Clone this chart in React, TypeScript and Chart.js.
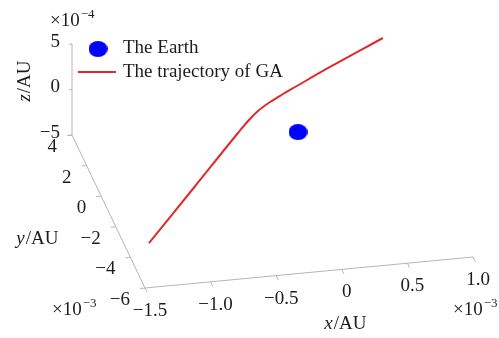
import React, { useEffect, useRef } from "react";
import { Chart, registerables } from "chart.js";

Chart.register(...registerables);

// ---------- data (x, y in 1e-3 AU; z in 1e-4 AU) ----------
const seriesNames = ["The Earth", "The trajectory of GA"];

const xTicks = [-1.5, -1.0, -0.5, 0, 0.5, 1.0];
const xTickLabels = ["\u22121.5", "\u22121.0", "\u22120.5", "0", "0.5", "1.0"];
const yTicks = [-6, -4, -2, 0, 2, 4];
const yTickLabels = ["\u22126", "\u22124", "\u22122", "0", "2", "4"];
const zTicks = [-5, 0, 5];
const zTickLabels = ["\u22125", "0", "5"];

const trajX = [-1.473, -0.951, -0.441, -0.329, -0.228, -0.118, -0.005, 0.106, 0.406, 0.871];
const trajY = [-6.055, -2.85, 0.298, 0.933, 1.385, 1.706, 1.959, 2.181, 2.915, 4.017];
const trajZ = [0, 0, 0, 0.1, 0.3, 0.6, 0.9, 1.2, 1.7, 2.4];

const earthX = [0];
const earthY = [0];
const earthZ = [0];

// ---------- view / style ----------
const W = 499;
const H = 338;
const X_MIN = -1.5, X_MAX = 1.0, Y_MIN = -6, Y_MAX = 4, Z_MIN = -5, Z_MAX = 5;
const ORIGIN = [145, 288];
const VX = [131.2, -12.4];
const VY = [-7.3, -15.3];
const VZ = [0, -9.1];
const RED = "#e02a2a";
const BLUE = "#0000ff";
const AXIS = "#b5b5b5";
const TEXT = "#1c1c1c";
const FAM = '"Liberation Serif", "DejaVu Serif", serif';

function project(x: number, y: number, z: number) {
  return {
    x: ORIGIN[0] + (x - X_MIN) * VX[0] + (y - Y_MIN) * VY[0] + (z - Z_MIN) * VZ[0],
    y: ORIGIN[1] + (x - X_MIN) * VX[1] + (y - Y_MIN) * VY[1] + (z - Z_MIN) * VZ[1],
  };
}

function makeEllipse(w: number, h: number) {
  const c = document.createElement("canvas");
  c.width = w;
  c.height = h;
  const g = c.getContext("2d")!;
  g.fillStyle = BLUE;
  g.beginPath();
  g.ellipse(w / 2, h / 2, w / 2, h / 2, 0, 0, Math.PI * 2);
  g.fill();
  return c;
}

function drawPow(ctx: CanvasRenderingContext2D, left: number, mid: number, exp: string) {
  ctx.font = `19px ${FAM}`;
  ctx.textAlign = "left";
  ctx.textBaseline = "middle";
  ctx.fillText("\u00d710", left, mid);
  const w = ctx.measureText("\u00d710").width;
  ctx.font = `13px ${FAM}`;
  ctx.fillText(exp, left + w + 1, mid - 6);
}

export default function App() {
  const ref = useRef<HTMLCanvasElement>(null);

  useEffect(() => {
    document.body.style.margin = "0";
    const canvas = ref.current!;
    const earthImg = makeEllipse(19, 16);

    const axesPlugin = {
      id: "axes3d",
      beforeDatasetsDraw(chart: any) {
        const ctx: CanvasRenderingContext2D = chart.ctx;
        const sx = chart.scales.x;
        const sy = chart.scales.y;
        const P = (x: number, y: number, z: number) => {
          const p = project(x, y, z);
          return { x: sx.getPixelForValue(p.x), y: sy.getPixelForValue(p.y) };
        };
        ctx.save();
        ctx.strokeStyle = AXIS;
        ctx.lineWidth = 1;
        const line = (a: any, b: any) => {
          ctx.beginPath();
          ctx.moveTo(a.x, a.y);
          ctx.lineTo(b.x, b.y);
          ctx.stroke();
        };
        // axes lines
        line(P(X_MIN, Y_MIN, Z_MIN), P(X_MAX, Y_MIN, Z_MIN));
        line(P(X_MIN, Y_MIN, Z_MIN), P(X_MIN, Y_MAX, Z_MIN));
        line(P(X_MIN, Y_MAX, Z_MIN), P(X_MIN, Y_MAX, Z_MAX));

        const TL = 5;
        const nY = Math.hypot(VY[0], VY[1]);
        const nX = Math.hypot(VX[0], VX[1]);
        ctx.fillStyle = TEXT;
        ctx.font = `19px ${FAM}`;
        // x ticks (outward = -Y direction)
        xTicks.forEach((v, i) => {
          const a = P(v, Y_MIN, Z_MIN);
          line(a, { x: a.x - (VY[0] / nY) * TL, y: a.y - (VY[1] / nY) * TL });
          ctx.textAlign = "center";
          ctx.textBaseline = "middle";
          ctx.fillText(xTickLabels[i], a.x + 5, a.y + 23);
        });
        // y ticks (outward = -X direction)
        yTicks.forEach((v, i) => {
          const a = P(X_MIN, v, Z_MIN);
          line(a, { x: a.x - (VX[0] / nX) * TL, y: a.y - (VX[1] / nX) * TL });
          ctx.textAlign = "right";
          ctx.textBaseline = "middle";
          ctx.fillText(yTickLabels[i], a.x - 15, a.y + 12);
        });
        // z ticks
        zTicks.forEach((v, i) => {
          const a = P(X_MIN, Y_MAX, v);
          line(a, { x: a.x - (VX[0] / nX) * 3, y: a.y - (VX[1] / nX) * 3 });
          ctx.textAlign = "right";
          ctx.textBaseline = "middle";
          ctx.fillText(zTickLabels[i], a.x - 12, a.y - 2);
        });

        // exponent labels
        const zTop = P(X_MIN, Y_MAX, Z_MAX);
        drawPow(ctx, zTop.x - 22, zTop.y - 23, "\u22124");
        const yEnd = P(X_MIN, Y_MIN, Z_MIN);
        drawPow(ctx, yEnd.x - 93, yEnd.y + 22, "\u22123");
        const xEnd = P(X_MAX, Y_MIN, Z_MIN);
        drawPow(ctx, xEnd.x - 20, xEnd.y + 53, "\u22123");

        // axis titles
        const axisTitle = (v: string, cx: number, cy: number, rot: number) => {
          ctx.save();
          ctx.translate(cx, cy);
          ctx.rotate(rot);
          ctx.textBaseline = "middle";
          ctx.font = `italic 19px ${FAM}`;
          const w1 = ctx.measureText(v).width;
          ctx.font = `19px ${FAM}`;
          const w2 = ctx.measureText("/AU").width;
          const left = -(w1 + w2) / 2;
          ctx.textAlign = "left";
          ctx.font = `italic 19px ${FAM}`;
          ctx.fillText(v, left, 0);
          ctx.font = `19px ${FAM}`;
          ctx.fillText("/AU", left + w1 + 1, 0);
          ctx.restore();
        };
        const xMid = P(0, Y_MIN, Z_MIN);
        axisTitle("x", xMid.x + 3, xMid.y + 55, 0);
        const yMid = P(X_MIN, -2, Z_MIN);
        axisTitle("y", yMid.x - 79, yMid.y + 12, 0);
        const zMid = P(X_MIN, Y_MAX, 0);
        axisTitle("z", zMid.x - 47, zMid.y - 8, -Math.PI / 2);
        ctx.restore();
      },
      afterDraw(chart: any) {
        const ctx: CanvasRenderingContext2D = chart.ctx;
        ctx.save();
        // legend
        ctx.drawImage(earthImg, 98 - 9.5, 49 - 8);
        ctx.strokeStyle = RED;
        ctx.lineWidth = 2;
        ctx.beginPath();
        ctx.moveTo(78, 72);
        ctx.lineTo(116, 72);
        ctx.stroke();
        ctx.fillStyle = TEXT;
        ctx.font = `19px ${FAM}`;
        ctx.textAlign = "left";
        ctx.textBaseline = "middle";
        ctx.fillText(seriesNames[0], 123, 48);
        ctx.fillText(seriesNames[1], 123, 72);
        ctx.restore();
      },
    };

    const traj = trajX.map((x, i) => project(x, trajY[i], trajZ[i]));
    const earth = earthX.map((x, i) => project(x, earthY[i], earthZ[i]));

    const chart = new Chart(canvas, {
      type: "scatter",
      data: {
        datasets: [
          {
            label: seriesNames[1],
            data: traj,
            showLine: true,
            borderColor: RED,
            backgroundColor: RED,
            borderWidth: 2,
            pointRadius: 0,
            cubicInterpolationMode: "monotone",
            fill: false,
          } as any,
          {
            label: seriesNames[0],
            data: earth,
            pointStyle: earthImg as any,
            pointRadius: 9,
            backgroundColor: BLUE,
            borderWidth: 0,
          } as any,
        ],
      },
      options: {
        responsive: false,
        animation: false,
        devicePixelRatio: 1,
        events: [],
        layout: { padding: 0, autoPadding: false },
        scales: {
          x: { type: "linear", min: 0, max: W, display: false },
          y: { type: "linear", min: 0, max: H, reverse: true, display: false },
        },
        plugins: { legend: { display: false }, tooltip: { enabled: false } },
      },
      plugins: [axesPlugin],
    });
    return () => chart.destroy();
  }, []);

  return (
    <div style={{ width: W, height: H }}>
      <canvas ref={ref} width={W} height={H} style={{ display: "block" }} />
    </div>
  );
}
